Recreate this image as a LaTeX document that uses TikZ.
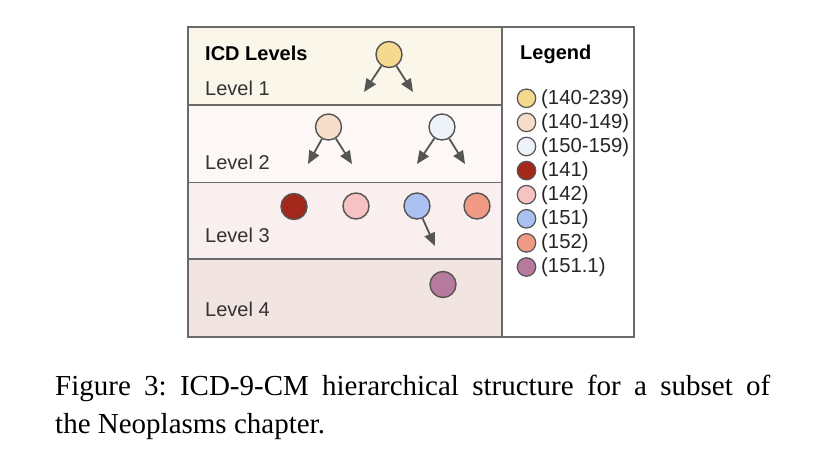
\documentclass[tikz,border=0pt]{standalone}
\usepackage{fontspec}
\setmainfont{Liberation Serif}
\setsansfont{Liberation Sans}
\usetikzlibrary{arrows.meta}
\frenchspacing
\definecolor{bandA}{HTML}{FBF6EA}
\definecolor{bandB}{HTML}{FDF8F5}
\definecolor{bandC}{HTML}{F9EFEE}
\definecolor{bandD}{HTML}{F2E4E1}
\definecolor{frameC}{HTML}{6A6A6A}
\definecolor{edgeC}{HTML}{555555}
\definecolor{txtC}{HTML}{333333}
\definecolor{cYel}{HTML}{F4D98E}
\definecolor{cPeach}{HTML}{F6DCCB}
\definecolor{cIce}{HTML}{EEF2FA}
\definecolor{cDark}{HTML}{A3281C}
\definecolor{cPink}{HTML}{F6C3C2}
\definecolor{cBlue}{HTML}{A9C2F2}
\definecolor{cSalmon}{HTML}{F09A85}
\definecolor{cMauve}{HTML}{B67A9D}
\begin{document}
\begin{tikzpicture}[x=1pt,y=-1pt,
  frame/.style={draw=frameC,line width=1.8pt},
  lbl/.style={inner sep=0pt,font=\sffamily\fontsize{20}{24}\selectfont,text=txtC},
  ltx/.style={inner sep=0pt,font=\sffamily\fontsize{20.3}{24}\selectfont,text=black!85,anchor=west},
  hdr/.style={inner sep=0pt,font=\sffamily\bfseries\fontsize{20}{24}\selectfont,text=black},
  dot/.style={circle,draw=edgeC,line width=1.4pt,inner sep=0pt,minimum size=26pt},
  ldot/.style={circle,draw=edgeC,line width=1.2pt,inner sep=0pt,minimum size=18.5pt},
  arr/.style={draw=edgeC,line width=1.8pt,-{Triangle[length=13pt,width=11pt]}},
  captext/.style={inner sep=0pt,text width=715pt,align=justify,font=\fontsize{29}{38}\selectfont,text=black}]
\useasboundingbox (0,0) rectangle (827,465);
\fill[white] (0,0) rectangle (827,465);
% bands
\fill[bandA] (188,27) rectangle (502,105);
\fill[bandB] (188,105) rectangle (502,182.5);
\fill[bandC] (188,182.5) rectangle (502,259);
\fill[bandD] (188,259) rectangle (502,337);
\draw[frame] (188,105) -- (502,105);
\draw[frame] (188,182.5) -- (502,182.5);
\draw[frame] (188,259) -- (502,259);
\draw[frame] (502,27) -- (502,337);
\draw[frame] (188,27) rectangle (634,337);
% level labels
\node[hdr,anchor=base west] (icd) at (205,61) {ICD Levels};
\node[lbl,anchor=base west] (lv1) at (205,96) {Level 1};
\node[lbl,anchor=base west] (lv2) at (205,170) {Level 2};
\node[lbl,anchor=base west] (lv3) at (205,243) {Level 3};
\node[lbl,anchor=base west] (lv4) at (205,316) {Level 4};
% level 1
\node[dot,fill=cYel] (n1) at (389,54.5) {};
\coordinate (t1a) at (364,92);
\coordinate (t1b) at (413,92);
\draw[arr] (n1) -- (t1a);
\draw[arr] (n1) -- (t1b);
% level 2
\node[dot,fill=cPeach] (n2a) at (328.5,127) {};
\node[dot,fill=cIce] (n2b) at (442,127) {};
\coordinate (t2a) at (308,164);
\coordinate (t2b) at (352,164);
\coordinate (t2c) at (417,164);
\coordinate (t2d) at (465,164);
\draw[arr] (n2a) -- (t2a);
\draw[arr] (n2a) -- (t2b);
\draw[arr] (n2b) -- (t2c);
\draw[arr] (n2b) -- (t2d);
% level 3
\node[dot,fill=cDark] (n3a) at (294,206.5) {};
\node[dot,fill=cPink] (n3b) at (356,206) {};
\node[dot,fill=cBlue] (n3c) at (417,206) {};
\node[dot,fill=cSalmon] (n3d) at (477,206) {};
\coordinate (t3) at (435,246);
\draw[arr] (n3c) -- (t3);
% level 4
\node[dot,fill=cMauve] (n4) at (443,284.5) {};
% legend
\node[hdr,anchor=base west] (leg) at (520,60) {Legend};
\node[ldot,fill=cYel] (l1) at (526.5,98.3) {};
\node[ltx] (lt1) at (541,98.8) {(140-239)};
\node[ldot,fill=cPeach] (l2) at (526.5,122.4) {};
\node[ltx] (lt2) at (541,122.9) {(140-149)};
\node[ldot,fill=cIce] (l3) at (526.5,146.5) {};
\node[ltx] (lt3) at (541,147) {(150-159)};
\node[ldot,fill=cDark] (l4) at (526.5,170.6) {};
\node[ltx] (lt4) at (541,171.1) {(141)};
\node[ldot,fill=cPink] (l5) at (526.5,194.7) {};
\node[ltx] (lt5) at (541,195.2) {(142)};
\node[ldot,fill=cBlue] (l6) at (526.5,218.8) {};
\node[ltx] (lt6) at (541,219.3) {(151)};
\node[ldot,fill=cSalmon] (l7) at (526.5,242.9) {};
\node[ltx] (lt7) at (541,243.4) {(152)};
\node[ldot,fill=cMauve] (l8) at (526.5,267) {};
\node[ltx] (lt8) at (541,267.5) {(151.1)};
% caption
\node[captext,anchor=north west] (cap) at (55,375) {Figure 3: ICD-9-CM hierarchical structure for a subset of\linebreak the Neoplasms chapter.};
\end{tikzpicture}
\end{document}
